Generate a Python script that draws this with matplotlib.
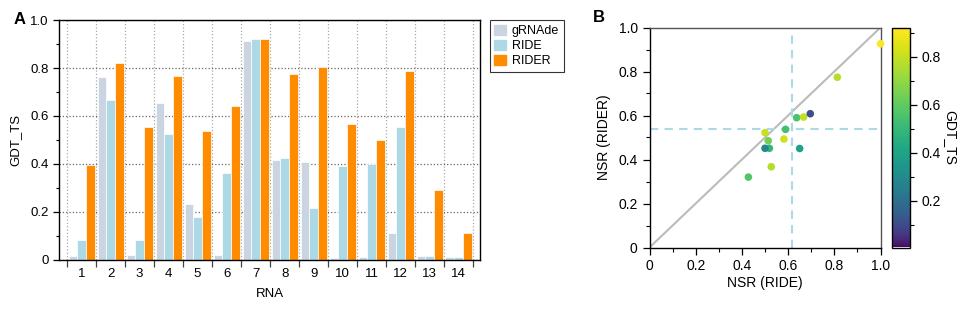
import numpy as np
import matplotlib
matplotlib.use("Agg")
import matplotlib.pyplot as plt
from matplotlib.ticker import MultipleLocator, FixedLocator
from matplotlib.patches import Patch
from matplotlib.colors import ListedColormap

plt.rcParams['font.family'] = ['Liberation Sans', 'DejaVu Sans']

# GDT_TS per RNA (panel A)
rna = np.arange(1, 15)
gdt_grnade = [0.016, 0.763, 0.019, 0.654, 0.233, 0.020, 0.915, 0.417, 0.408, 0.005, 0.010, 0.109, 0.016, 0.010]
gdt_ride = [0.082, 0.666, 0.082, 0.526, 0.176, 0.363, 0.923, 0.423, 0.217, 0.392, 0.398, 0.554, 0.016, 0.010]
gdt_rider = [0.397, 0.820, 0.554, 0.767, 0.539, 0.642, 0.923, 0.774, 0.805, 0.565, 0.498, 0.790, 0.291, 0.111]

# NSR per RNA (panel B), points coloured by RIDER GDT_TS
nsr_ride = [0.650, 0.582, 0.637, 0.527, 0.589, 0.514, 1.000, 0.813, 0.500, 0.428, 0.519, 0.667, 0.500, 0.696]
nsr_rider = [0.450, 0.493, 0.590, 0.367, 0.537, 0.485, 0.926, 0.774, 0.522, 0.320, 0.451, 0.593, 0.451, 0.608]

c_grnade = '#cbd5e1'
c_ride = '#add8e6'
c_rider = '#ff8c00'

# the reference colour bar is viridis but brighter in the low/mid range
vir = plt.get_cmap('viridis')
cmap = ListedColormap(vir(np.linspace(0, 1, 256) ** 0.65))

W, H = 968, 327
fig = plt.figure(figsize=(W / 100, H / 100), dpi=100)


def px_axes(x0, y0, x1, y1):
    # pixel box (top-left origin) -> figure axes
    return fig.add_axes([x0 / W, 1 - y1 / H, (x1 - x0) / W, (y1 - y0) / H])


# ---- panel A: bars ----
ax = px_axes(59, 20.3, 480, 259.5)
bw = 0.3
ax.bar(rna - bw, gdt_grnade, bw, color=c_grnade, edgecolor='white', linewidth=0.5, zorder=2)
ax.bar(rna, gdt_ride, bw, color=c_ride, edgecolor='white', linewidth=0.5, zorder=2)
ax.bar(rna + bw, gdt_rider, bw, color=c_rider, edgecolor='white', linewidth=0.5, zorder=2)

ax.set_xlim(0.22, 14.74)
ax.set_ylim(0, 1.0)
ax.set_axisbelow(True)

ax.xaxis.set_major_locator(FixedLocator(rna))
ax.set_xticklabels([str(r) for r in rna])
ax.xaxis.set_minor_locator(FixedLocator(np.arange(0.5, 15, 1.0)))
ax.tick_params(axis='x', which='major', length=0, pad=6, labelsize=9.5)
ax.tick_params(axis='x', which='minor', length=5, width=0.9, color='#444444', direction='out')
ax.set_yticks([0, 0.2, 0.4, 0.6, 0.8, 1.0])
ax.set_yticklabels(['0', '0.2', '0.4', '0.6', '0.8', '1.0'])
ax.yaxis.set_minor_locator(MultipleLocator(0.1))
ax.tick_params(axis='y', which='major', length=4, width=0.9, labelsize=9.5)
ax.tick_params(axis='y', which='minor', length=2.5, width=0.8)
ax.grid(True, axis='x', which='minor', linestyle=':', color='#aaaaaa', linewidth=0.9)
ax.grid(True, axis='y', which='major', linestyle=':', color='#666666', linewidth=0.9)
ax.set_xlabel('RNA', fontsize=9.5, labelpad=6)
ax.set_ylabel('GDT_TS', fontsize=9.5, labelpad=6)
for s in ax.spines.values():
    s.set_linewidth(1.0)

handles = [Patch(color=c_grnade, label='gRNAde'), Patch(color=c_ride, label='RIDE'),
           Patch(color=c_rider, label='RIDER')]
leg = ax.legend(handles=handles, loc='upper left', bbox_to_anchor=(1.024, 1.0), borderaxespad=0,
                fontsize=9, frameon=True, fancybox=False, handlelength=0.9, handleheight=0.9,
                handletextpad=0.5, labelspacing=0.2, borderpad=0.35)
leg.get_frame().set_edgecolor('black')
leg.get_frame().set_linewidth(0.8)

fig.text(14 / W, 1 - 19 / H, 'A', fontsize=12, fontweight='bold', va='center', ha='left')

# ---- panel B: scatter ----
bx = px_axes(649.5, 27.5, 880.5, 247.5)
bx.plot([0, 1], [0, 1], color='#bbbbbb', linewidth=1.5, zorder=1)
bx.axvline(np.mean(nsr_ride), color=c_ride, linestyle=(0, (4, 3)), linewidth=1.5, zorder=1)
bx.axhline(np.mean(nsr_rider), color=c_ride, linestyle=(0, (4, 3)), linewidth=1.5, zorder=1)
all_gdt = gdt_grnade + gdt_ride + gdt_rider
sc = bx.scatter(nsr_ride, nsr_rider, c=gdt_rider, cmap=cmap, vmin=min(all_gdt), vmax=max(all_gdt),
                s=30, linewidths=0, zorder=3, clip_on=False)
bx.set_xlim(0, 1)
bx.set_ylim(0, 1)
labs = ['0', '0.2', '0.4', '0.6', '0.8', '1.0']
bx.set_xticks([0, 0.2, 0.4, 0.6, 0.8, 1.0])
bx.set_xticklabels(labs)
bx.set_yticks([0, 0.2, 0.4, 0.6, 0.8, 1.0])
bx.set_yticklabels(labs)
bx.xaxis.set_minor_locator(MultipleLocator(0.1))
bx.yaxis.set_minor_locator(MultipleLocator(0.1))
bx.tick_params(which='major', length=5, width=0.9, labelsize=10)
bx.tick_params(which='minor', length=3, width=0.8)
bx.set_xlabel('NSR (RIDE)', fontsize=10, labelpad=2)
bx.set_ylabel('NSR (RIDER)', fontsize=10, labelpad=5)
for side, s in bx.spines.items():
    s.set_linewidth(1.0)
    if side in ('top', 'right'):
        s.set_color('#555555')

fig.text(593 / W, 1 - 17 / H, 'B', fontsize=12, fontweight='bold', va='center', ha='left')

cax = px_axes(892, 27.5, 909.5, 247.5)
cb = fig.colorbar(sc, cax=cax)
cb.outline.set_linewidth(1.0)
cb.set_ticks([0.2, 0.4, 0.6, 0.8])
cb.ax.yaxis.set_minor_locator(MultipleLocator(0.1))
cb.ax.tick_params(which='major', length=5, width=0.9, labelsize=10)
cb.ax.tick_params(which='minor', length=3, width=0.8)
cb.set_label('GDT_TS', fontsize=10, rotation=270, labelpad=12)

fig.savefig('out.png', dpi=100)
